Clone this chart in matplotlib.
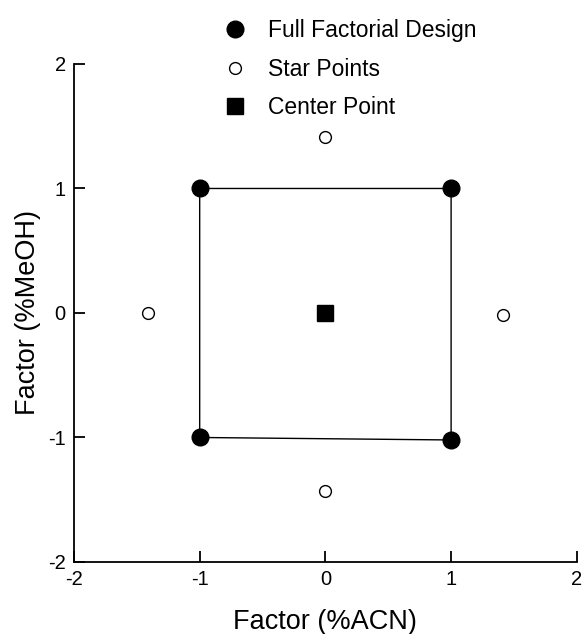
import numpy as np
import matplotlib.pyplot as plt

plt.rcParams['font.family'] = ['Liberation Sans', 'DejaVu Sans']

# full factorial design (corners)
full_x = [-1, 1, 1, -1]
full_y = [1, 1, -1.02, -1]
# star points
star_x = [0, -1.41, 1.41, 0]
star_y = [1.41, 0, -0.02, -1.43]
# center point
center_x = [0]
center_y = [0]

ticks = [-2, -1, 0, 1, 2]

fig = plt.figure(figsize=(5.82, 6.34), dpi=100)
ax = fig.add_axes([0.1271, 0.1136, 0.864, 0.7855])

# square outline through the corner points
ax.plot(full_x + full_x[:1], full_y + full_y[:1], color='black', lw=1.0, zorder=1)

h1, = ax.plot(full_x, full_y, 'o', color='black', ms=12, ls='none',
              label='Full Factorial Design', zorder=3)
h2, = ax.plot(star_x, star_y, 'o', mfc='white', mec='black', mew=1.0, ms=8.5,
              ls='none', label='Star Points', zorder=3)
h3, = ax.plot(center_x, center_y, 's', color='black', ms=11, ls='none',
              label='Center Point', zorder=3)

ax.set_xlim(-2, 2)
ax.set_ylim(-2, 2)
ax.set_xticks(ticks)
ax.set_yticks(ticks)
ax.set_xticklabels([str(t) for t in ticks])
ax.set_yticklabels([str(t) for t in ticks])

for s in ['top', 'right']:
    ax.spines[s].set_visible(False)
for s in ['left', 'bottom']:
    ax.spines[s].set_linewidth(1.3)

ax.tick_params(direction='in', length=8, width=1.3, labelsize=14.5, pad=6)
ax.set_xlabel('Factor (%ACN)', fontsize=19.5, labelpad=14)
ax.set_ylabel('Factor (%MeOH)', fontsize=19.5, labelpad=5)

fig.legend(handles=[h1, h2, h3], loc='upper left',
           bbox_to_anchor=(0.353, 0.995), frameon=False, fontsize=16.5,
           labelspacing=0.68, handletextpad=0.85, handlelength=1.2,
           borderaxespad=0.3)

fig.savefig('out.png', dpi=100)
